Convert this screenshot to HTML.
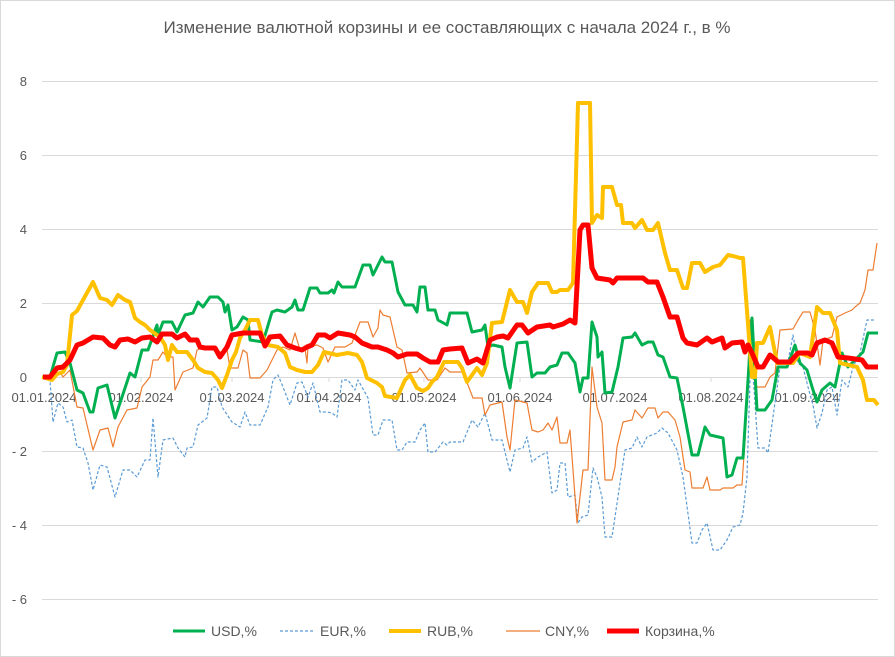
<!DOCTYPE html>
<html><head><meta charset="utf-8"><style>
html,body{margin:0;padding:0;background:#fff}
svg{display:block}
text{font-family:"Liberation Sans",sans-serif;fill:#595959}
</style></head><body>
<svg width="895" height="657" viewBox="0 0 895 657" xmlns="http://www.w3.org/2000/svg">
<rect x="0.5" y="0.5" width="894" height="656" fill="#fff" stroke="#d9d9d9"/>
<text x="447" y="33" font-size="17" text-anchor="middle">Изменение валютной корзины и ее составляющих с начала 2024 г., в %</text>
<g stroke="#d9d9d9" stroke-width="1">
<line x1="42" x2="878" y1="81.5" y2="81.5"/><line x1="42" x2="878" y1="155.5" y2="155.5"/>
<line x1="42" x2="878" y1="229.5" y2="229.5"/><line x1="42" x2="878" y1="303.5" y2="303.5"/>
<line x1="42" x2="878" y1="451.5" y2="451.5"/><line x1="42" x2="878" y1="525.5" y2="525.5"/>
<line x1="42" x2="878" y1="599.5" y2="599.5"/><line x1="42" x2="878" y1="377.5" y2="377.5"/>
</g>
<g stroke="#d9d9d9"><line x1="141" x2="141" y1="377" y2="382"/><line x1="232" x2="232" y1="377" y2="382"/><line x1="329" x2="329" y1="377" y2="382"/><line x1="424" x2="424" y1="377" y2="382"/><line x1="520" x2="520" y1="377" y2="382"/><line x1="615" x2="615" y1="377" y2="382"/><line x1="711" x2="711" y1="377" y2="382"/><line x1="807" x2="807" y1="377" y2="382"/></g>
<g font-size="13" text-anchor="end">
<text x="27" y="86">8</text><text x="27" y="160">6</text><text x="27" y="234">4</text><text x="27" y="308">2</text><text x="27" y="382">0</text>
<text x="27" y="456">- 2</text><text x="27" y="530">- 4</text><text x="27" y="604">- 6</text>
</g>
<g font-size="13" text-anchor="middle">
<text x="44" y="402">01.01.2024</text><text x="141" y="402">01.02.2024</text><text x="232" y="402">01.03.2024</text><text x="329" y="402">01.04.2024</text><text x="424" y="402">01.05.2024</text><text x="520" y="402">01.06.2024</text><text x="615" y="402">01.07.2024</text><text x="711" y="402">01.08.2024</text><text x="807" y="402">01.09.2024</text>
</g>
<g fill="none" stroke-linejoin="round">
<polyline stroke="#5B9BD5" stroke-width="1.2" stroke-dasharray="3,2" points="43,377 50,380 53,422 58,403 63,407 67,422 72,420 77,447 83,448 88,463 93,490 100,465 107,467 115,497 123,470 130,470 137,477 145,460 150,460 153,418 158,477 163,440 173,438 178,448 185,457 187,448 193,447 198,425 207,418 212,387 217,387 222,407 232,422 240,427 245,412 250,425 260,425 268,407 273,380 278,375 283,387 290,405 297,383 302,382 308,397 313,383 320,412 327,412 332,413 337,417 342,380 348,380 355,390 358,380 368,398 373,435 378,435 383,420 392,420 397,450 402,450 407,442 415,442 420,430 425,423 428,452 435,452 443,442 447,445 450,442 463,442 472,420 478,427 485,413 492,440 502,440 510,472 515,450 523,448 527,437 532,462 538,457 547,452 552,493 557,490 560,463 565,463 568,497 575,495 578,523 582,517 588,515 593,468 597,477 602,497 605,537 612,537 615,517 620,483 625,450 632,448 637,437 642,447 647,437 657,433 662,428 668,433 677,450 683,477 692,543 697,543 702,530 707,523 713,550 720,550 727,540 733,527 740,525 743,513 747,477 750,380 753,373 758,448 765,448 768,453 773,417 780,367 787,367 793,335 798,363 803,367 808,387 813,405 817,428 822,413 827,390 832,387 837,415 842,380 848,387 853,367 860,353 867,320 874,320"/>
<polyline stroke="#ED7D31" stroke-width="1.2" points="43,377 53,375 60,372 63,377 70,370 77,407 83,408 93,450 100,430 108,428 113,447 118,427 127,410 137,408 142,387 150,377 153,360 158,360 163,352 167,357 173,357 175,390 183,372 193,368 197,350 205,347 212,347 217,350 222,353 227,350 230,368 238,368 243,350 247,353 250,378 260,378 267,370 277,350 283,347 290,350 295,333 300,350 305,348 307,363 308,347 317,345 323,348 328,362 335,347 345,347 352,343 360,322 368,322 373,337 378,328 380,310 383,315 390,317 397,347 402,350 407,373 417,372 420,368 428,380 437,380 445,368 450,372 463,372 473,398 482,398 485,415 490,405 502,402 507,437 510,450 515,400 527,403 532,430 538,432 543,430 548,423 552,430 557,417 560,443 567,443 570,430 577,523 583,470 588,470 592,367 597,407 602,423 605,480 612,480 615,467 617,447 623,422 632,420 635,410 642,418 648,408 655,408 658,418 663,412 668,412 675,420 680,437 685,470 690,472 692,488 703,488 707,477 710,490 720,490 723,488 733,488 737,485 742,485 745,440 750,320 753,320 755,387 765,387 770,377 775,373 780,330 793,329 798,320 803,312 810,312 815,330 820,365 823,340 832,337 837,317 845,313 852,310 855,307 860,303 865,290 868,270 873,270 877,243"/>
<polyline stroke="#00B050" stroke-width="3" points="42,377 50,377 57,353 65,352 70,363 77,390 83,393 90,412 93,412 98,388 107,385 115,418 122,397 130,373 135,377 142,350 148,350 157,325 158,335 163,322 172,322 177,332 185,315 193,313 198,302 203,307 210,297 218,297 223,302 225,312 228,305 232,330 237,327 243,317 248,320 250,340 263,342 272,312 277,310 285,312 292,307 295,300 298,310 303,310 310,288 317,288 320,293 328,293 332,290 334,293 338,282 342,287 355,287 363,265 370,265 373,275 382,257 385,262 392,262 398,292 405,305 413,305 417,312 420,287 425,287 428,310 435,310 438,320 447,325 450,313 467,313 472,332 482,330 485,325 488,347 493,345 502,347 505,367 510,388 517,343 527,342 532,377 537,373 545,373 550,367 557,365 562,353 568,353 575,363 580,392 583,378 588,378 592,322 597,337 598,357 602,352 605,393 612,392 618,367 623,338 632,337 635,333 642,345 648,342 653,342 658,355 663,357 670,377 677,378 683,407 692,455 698,455 705,427 710,435 723,438 727,477 732,475 737,458 743,458 752,318 757,410 765,410 772,400 778,367 787,367 795,345 800,363 807,370 813,390 817,402 822,390 830,383 835,387 842,353 848,367 863,352 868,333 878,333"/>
<polyline stroke="#FFC000" stroke-width="4" points="42,377 52,380 57,374 63,372 67,365 72,315 77,311 83,300 93,282 100,298 107,300 112,305 118,295 125,300 130,302 135,318 140,322 145,325 150,330 157,335 160,337 165,345 168,360 172,345 177,352 187,352 193,360 198,368 205,372 212,373 218,380 222,388 227,375 232,360 236,352 240,338 245,330 250,320 258,320 262,335 268,345 278,347 285,353 290,367 297,370 305,372 312,372 318,365 324,352 337,355 348,353 357,355 362,362 367,378 377,383 382,387 385,396 397,398 405,380 410,375 417,388 423,391 428,388 432,382 437,377 444,362 458,362 462,368 467,382 477,368 482,375 487,363 492,323 502,322 510,290 517,302 523,302 527,313 532,292 538,283 548,283 552,292 557,292 560,290 568,290 573,283 578,103 590,103 592,223 597,215 602,218 603,187 612,187 617,205 621,205 623,223 632,223 635,228 642,220 647,230 653,230 658,223 665,253 670,270 677,270 683,288 687,288 692,263 700,263 705,272 713,267 720,265 728,255 733,256 740,258 743,258 752,377 755,377 757,343 763,343 770,327 777,363 793,363 800,353 810,357 817,307 823,313 830,313 837,330 840,363 857,367 863,380 867,400 874,400 878,405"/>
<polyline stroke="#FF0000" stroke-width="5" points="43,377 50,377 57,368 63,367 70,360 77,345 83,343 93,337 103,338 110,345 115,347 120,340 128,339 135,342 142,338 150,337 157,342 162,334 172,334 177,338 185,334 190,340 197,340 200,347 205,348 215,348 220,357 227,347 232,335 243,333 260,333 265,346 270,337 280,336 287,345 295,348 302,350 307,347 312,345 318,335 325,335 330,338 338,333 350,335 355,337 362,343 372,347 378,347 387,350 393,353 398,357 407,354 417,354 423,358 430,362 438,362 443,350 450,349 462,348 468,363 477,359 483,363 490,340 497,337 503,336 508,338 517,325 522,325 528,333 537,327 550,325 553,327 563,324 570,320 575,323 580,230 583,225 588,225 592,268 597,278 610,280 613,283 617,278 643,278 648,282 657,282 663,297 670,317 677,317 683,338 687,343 697,345 707,338 712,342 722,338 725,348 732,343 742,342 745,352 748,345 752,353 758,367 763,367 770,355 778,362 790,362 798,353 808,353 812,355 817,343 825,340 832,343 838,357 848,358 862,360 867,367 878,367"/>
</g>
<g font-size="14">
<line x1="173" x2="205" y1="631" y2="631" stroke="#00B050" stroke-width="3"/><text x="211" y="636">USD,%</text>
<line x1="280" x2="314" y1="631" y2="631" stroke="#5B9BD5" stroke-width="1.2" stroke-dasharray="3,2"/><text x="320" y="636">EUR,%</text>
<line x1="389" x2="421" y1="631" y2="631" stroke="#FFC000" stroke-width="4"/><text x="427" y="636">RUB,%</text>
<line x1="506" x2="540" y1="631" y2="631" stroke="#ED7D31" stroke-width="1.2"/><text x="545" y="636">CNY,%</text>
<line x1="607" x2="639" y1="631" y2="631" stroke="#FF0000" stroke-width="5"/><text x="645" y="636">Корзина,%</text>
</g>
</svg>
</body></html>
